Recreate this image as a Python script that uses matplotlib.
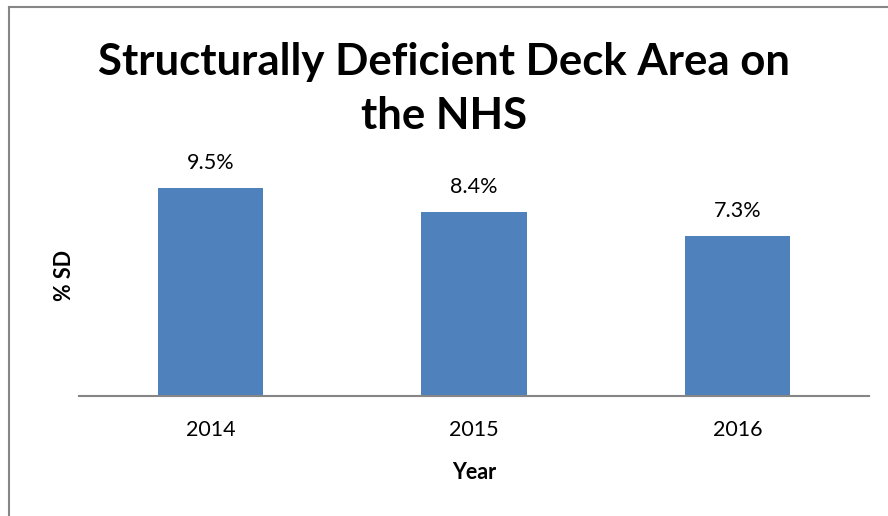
"""Structurally deficient deck area on the NHS, bar chart."""

from matplotlib import pyplot as plt
from matplotlib.lines import Line2D

years = ["2014", "2015", "2016"]
sd_percent = [9.5, 8.4, 7.3]

BAR_COLOR = "#4f81bd"
FONT = ["Lato", "DejaVu Sans"]


def main():
    plt.rcParams["font.family"] = FONT
    fig = plt.figure(figsize=(8.88, 5.16), dpi=100)
    W, H = 888, 516

    # chart frame, cropped at the right and bottom edge of the picture
    fig.add_artist(Line2D([8.5 / W, 8.5 / W], [0, 1 - 7 / H],
                          transform=fig.transFigure, color="#868686", lw=1.5))
    fig.add_artist(Line2D([8.5 / W, 1], [1 - 7 / H, 1 - 7 / H],
                          transform=fig.transFigure, color="#868686", lw=1.5))

    ax = fig.add_axes([79 / W, (H - 396) / H, 790 / W, 241 / H])
    x = range(len(years))
    bars = ax.bar(x, sd_percent, width=0.4, color=BAR_COLOR)
    ax.set_xlim(-0.5, len(years) - 0.5)
    ax.set_ylim(0, 11)

    for bar, v in zip(bars, sd_percent):
        ax.annotate(f"{v}%", (bar.get_x() + bar.get_width() / 2, v),
                    xytext=(0, 11), textcoords="offset points",
                    ha="center", va="bottom", fontsize=15.5)

    for side in ("top", "right", "left"):
        ax.spines[side].set_visible(False)
    ax.spines["bottom"].set_color("#868686")
    ax.spines["bottom"].set_linewidth(1.5)
    ax.set_yticks([])
    ax.set_xticks(list(x), years, fontsize=15.5)
    ax.tick_params(axis="x", length=0, pad=17)

    ax.set_xlabel("Year", fontsize=15.5, fontweight="bold", labelpad=16)
    ax.set_ylabel("% SD", fontsize=15.5, fontweight="bold", labelpad=3)

    fig.text(0.5, 1 - 89 / H, "Structurally Deficient Deck Area on\nthe NHS",
             ha="center", va="center", fontsize=31.5, fontweight="bold",
             linespacing=1.45)

    fig.savefig("out.png", dpi=100)


if __name__ == "__main__":
    main()
